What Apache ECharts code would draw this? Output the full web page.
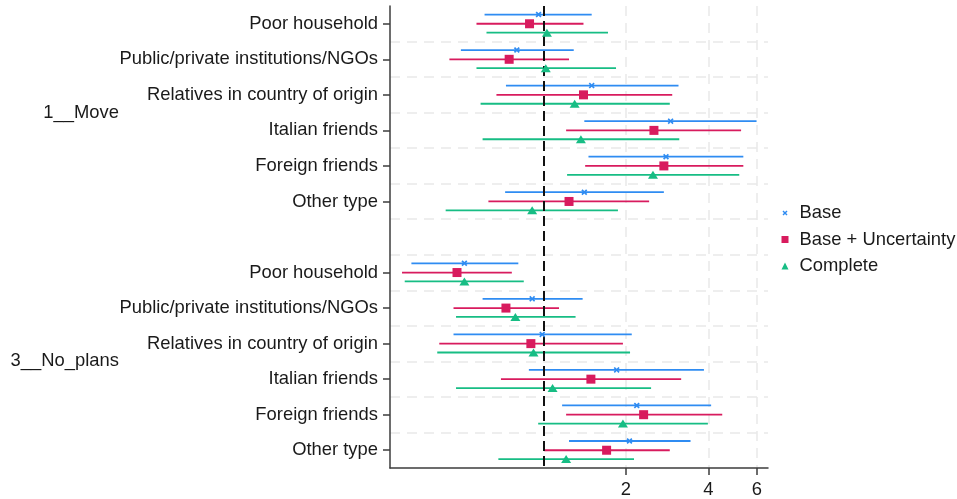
<!DOCTYPE html>
<html>
<head>
<meta charset="utf-8">
<script src="https://cdn.jsdelivr.net/npm/echarts@6/dist/echarts.min.js"></script>
<style>
  html, body { margin: 0; padding: 0; background: #fff; }
  #chart { width: 957px; height: 499px; }
</style>
</head>
<body>
<div id="chart"></div>
<script>
// Odds ratios with 95% confidence intervals, by source of help and plan
const categories = [
  'Poor household',
  'Public/private institutions/NGOs',
  'Relatives in country of origin',
  'Italian friends',
  'Foreign friends',
  'Other type'
];
const groups = ['1__Move', '3__No_plans'];
const modelNames = ['Base', 'Base + Uncertainty', 'Complete'];
const xTickValues = [2, 4, 6];

// values listed as: 1__Move rows, then 3__No_plans rows
const basePoint = [0.96, 0.80, 1.50, 2.91, 2.80, 1.41, 0.515, 0.91, 0.99, 1.85, 2.19, 2.06];
const baseLow   = [0.61, 0.50, 0.73, 1.41, 1.46, 0.725, 0.33, 0.60, 0.47, 0.885, 1.17, 1.24];
const baseHigh  = [1.50, 1.29, 3.11, 5.99, 5.36, 2.75, 0.81, 1.39, 2.10, 3.85, 4.09, 3.44];

const uncPoint = [0.89, 0.75, 1.40, 2.53, 2.75, 1.24, 0.484, 0.73, 0.90, 1.49, 2.32, 1.70];
const uncLow   = [0.57, 0.454, 0.674, 1.21, 1.42, 0.63, 0.305, 0.47, 0.417, 0.70, 1.21, 1.006];
const uncHigh  = [1.40, 1.24, 2.95, 5.26, 5.36, 2.43, 0.767, 1.14, 1.95, 3.18, 4.49, 2.89];

const compPoint = [1.03, 1.02, 1.30, 1.37, 2.51, 0.91, 0.515, 0.79, 0.92, 1.08, 1.95, 1.21];
const compLow   = [0.62, 0.57, 0.59, 0.60, 1.22, 0.44, 0.312, 0.48, 0.41, 0.48, 0.957, 0.685];
const compHigh  = [1.72, 1.84, 2.89, 3.13, 5.18, 1.87, 0.848, 1.31, 2.07, 2.47, 3.98, 2.14];

const models = [
  { point: basePoint, low: baseLow, high: baseHigh },
  { point: uncPoint, low: uncLow, high: uncHigh },
  { point: compPoint, low: compLow, high: compHigh }
];

const colors = ['#2f8cf2', '#d81b5e', '#17bd84'];
const rowShift = [-0.26, 0, 0.25];
const rowsPerGroup = categories.length + 1; // one blank row between groups
const totalRows = rowsPerGroup * groups.length - 1;

const crossPath = 'path://M2,0L5,3L8,0L10,2L7,5L10,8L8,10L5,7L2,10L0,8L3,5L0,2Z';
const crossLegendPath = 'path://M-2,-2M12,12M2,0L5,3L8,0L10,2L7,5L10,8L8,10L5,7L2,10L0,8L3,5L0,2Z';
const symbols = [crossPath, 'rect', 'triangle'];
const symbolSizes = [6, 9, [10, 8]];
const legendIcons = [crossLegendPath, 'rect', 'triangle'];

function rowOf(k) {
  const g = Math.floor(k / categories.length);
  const c = k % categories.length;
  return g * rowsPerGroup + c;
}

const rowCenters = [];
groups.forEach((g, gi) => categories.forEach((c, ci) => rowCenters.push(gi * rowsPerGroup + ci + 0.5)));
const groupCenters = groups.map((g, gi) => gi * rowsPerGroup + (categories.length - 1) / 2 + 0.5);

const textColor = '#1a1a1a';
const axisColor = '#3d3d3d';
const gridStyle = { color: '#e9e9e9', type: [10, 7], width: 1.5 };
const font = 'Liberation Sans, Arial, sans-serif';
const fontSize = 18.4;

const series = [];
models.forEach((m, s) => {
  const rows = m.point.map((p, k) => [p, rowOf(k) + 0.5 + rowShift[s], m.low[k], m.high[k]]);
  series.push({
    name: modelNames[s] + ' CI',
    type: 'custom',
    xAxisIndex: 0,
    yAxisIndex: 0,
    encode: { x: [0, 2, 3], y: 1 },
    data: rows,
    z: 3,
    silent: true,
    renderItem: function (params, api) {
      const y = api.value(1);
      const a = api.coord([api.value(2), y]);
      const b = api.coord([api.value(3), y]);
      return {
        type: 'line',
        shape: { x1: a[0], y1: a[1], x2: b[0], y2: b[1] },
        style: { stroke: colors[s], lineWidth: 1.8 }
      };
    }
  });
});
models.forEach((m, s) => {
  const pts = m.point.map((p, k) => [p, rowOf(k) + 0.5 + rowShift[s]]);
  const sr = {
    name: modelNames[s],
    type: 'scatter',
    xAxisIndex: 0,
    yAxisIndex: 0,
    data: pts,
    symbol: symbols[s],
    symbolSize: symbolSizes[s],
    itemStyle: { color: colors[s], opacity: 1 },
    z: 5,
    silent: true
  };
  if (s === 0) {
    sr.markLine = {
      silent: true,
      symbol: 'none',
      z: 4,
      label: { show: false },
      lineStyle: { color: '#111', type: [10, 5], width: 2 },
      data: [{ xAxis: 1 }]
    };
  }
  series.push(sr);
});

const chart = echarts.init(document.getElementById('chart'), null, { renderer: 'canvas' });
chart.setOption({
  animation: false,
  backgroundColor: '#ffffff',
  textStyle: { fontFamily: font },
  grid: { left: 390, right: 189, top: 6, bottom: 29, containLabel: false },
  legend: {
    orient: 'vertical',
    left: 781.5,
    top: 203,
    padding: 0,
    itemWidth: 7,
    itemHeight: 7,
    itemGap: 6.5,
    selectedMode: false,
    data: modelNames.map((n, s) => ({ name: n, icon: legendIcons[s], itemStyle: { color: colors[s] } })),
    textStyle: { fontSize: fontSize, color: textColor, fontFamily: font, lineHeight: 20, padding: [0, 0, 0, 6] }
  },
  xAxis: {
    type: 'log',
    logBase: 2,
    min: 0.2757,
    max: 6.594,
    axisLine: { show: true, onZero: false, lineStyle: { color: axisColor, width: 1.5 } },
    axisTick: { show: true, length: 7, customValues: xTickValues, lineStyle: { color: axisColor, width: 1.5 } },
    axisLabel: {
      customValues: xTickValues,
      formatter: v => String(Math.round(v)),
      fontSize: fontSize, color: textColor, fontFamily: font, margin: 13
    },
    splitLine: { show: true, lineStyle: gridStyle },
    minorTick: { show: false },
    minorSplitLine: { show: false }
  },
  yAxis: [
    {
      type: 'value',
      min: 0,
      max: totalRows,
      inverse: true,
      position: 'left',
      axisLine: { show: true, onZero: false, lineStyle: { color: axisColor, width: 1.5 } },
      axisTick: { show: true, length: 7, customValues: rowCenters, lineStyle: { color: axisColor, width: 1.5 } },
      axisLabel: {
        customValues: rowCenters,
        formatter: v => categories[Math.floor(v) % rowsPerGroup],
        fontSize: fontSize, color: textColor, fontFamily: font, margin: 12,
        padding: [3, 0, 0, 0]
      },
      splitLine: { show: false }
    },
    {
      type: 'value',
      min: 0,
      max: totalRows,
      interval: 1,
      inverse: true,
      position: 'left',
      axisLine: { show: false, onZero: false },
      axisTick: { show: false },
      axisLabel: { show: false },
      splitLine: { show: true, showMinLine: false, showMaxLine: false, lineStyle: gridStyle }
    },
    {
      type: 'value',
      min: 0,
      max: totalRows,
      inverse: true,
      position: 'left',
      offset: 263,
      axisLine: { show: false, onZero: false },
      axisTick: { show: false },
      axisLabel: {
        customValues: groupCenters,
        formatter: v => groups[Math.round((v - 3) / rowsPerGroup)],
        fontSize: fontSize, color: textColor, fontFamily: font, margin: 8,
        padding: [3, 0, 0, 0]
      },
      splitLine: { show: false }
    }
  ],
  series: series
});
</script>
</body>
</html>
